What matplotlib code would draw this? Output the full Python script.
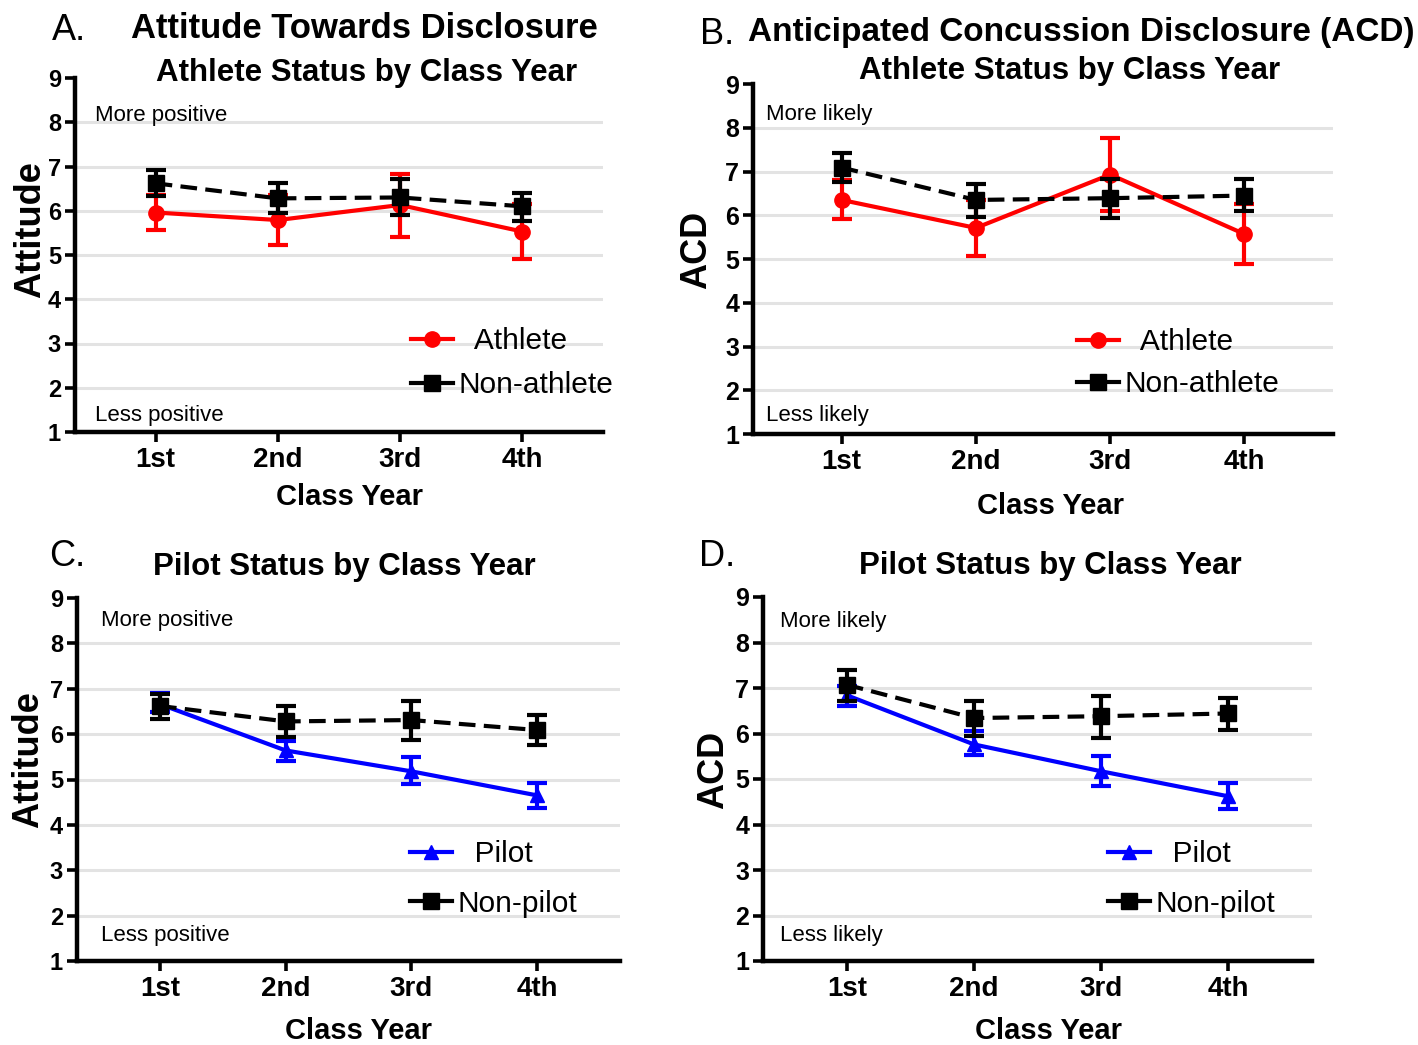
import matplotlib
matplotlib.use("Agg")
import matplotlib.pyplot as plt
from matplotlib.lines import Line2D
import numpy as np

plt.rcParams['font.family'] = ['Liberation Sans', 'DejaVu Sans']

years = ['1st', '2nd', '3rd', '4th']

# Panel A: Attitude, athlete status
athlete_att = [5.96, 5.79, 6.13, 5.53]
athlete_att_lo = [5.57, 5.23, 5.41, 4.91]
athlete_att_hi = [6.36, 6.35, 6.84, 6.15]
nonathlete_att = [6.62, 6.28, 6.30, 6.10]
nonathlete_att_lo = [6.34, 5.95, 5.90, 5.77]
nonathlete_att_hi = [6.91, 6.62, 6.71, 6.41]

# Panel B: ACD, athlete status
athlete_acd = [6.35, 5.71, 6.93, 5.57]
athlete_acd_lo = [5.92, 5.08, 6.10, 4.88]
athlete_acd_hi = [6.81, 6.35, 7.77, 6.25]
nonathlete_acd = [7.09, 6.35, 6.39, 6.45]
nonathlete_acd_lo = [6.76, 5.97, 5.94, 6.10]
nonathlete_acd_hi = [7.43, 6.72, 6.84, 6.82]

# Panel C: Attitude, pilot status
pilot_att = [6.66, 5.64, 5.18, 4.65]
pilot_att_lo = [6.49, 5.40, 4.90, 4.38]
pilot_att_hi = [6.91, 5.85, 5.49, 4.92]
nonpilot_att = [6.62, 6.28, 6.31, 6.09]
nonpilot_att_lo = [6.34, 5.93, 5.88, 5.77]
nonpilot_att_hi = [6.89, 6.63, 6.73, 6.42]

# Panel D: ACD, pilot status
pilot_acd = [6.84, 5.76, 5.17, 4.62]
pilot_acd_lo = [6.60, 5.52, 4.85, 4.33]
pilot_acd_hi = [7.05, 6.05, 5.51, 4.92]
nonpilot_acd = [7.07, 6.34, 6.38, 6.44]
nonpilot_acd_lo = [6.72, 5.95, 5.91, 6.08]
nonpilot_acd_hi = [7.40, 6.72, 6.83, 6.79]

W, H = 1418, 1045
fig = plt.figure(figsize=(W / 100, H / 100), dpi=100)


def rect(l, r, t, b):
    return [l / W, 1 - b / H, (r - l) / W, (b - t) / H]


def fx(x):
    return x / W


def fy(y):
    return 1 - y / H


LW = 3.0


def panel(r, m1, lo1, hi1, c1, mk1, lab1, m2, lo2, hi2, lab2,
          ylab, ylab_xy, xlab_xy, top_txt, bot_txt, txt_x, top_y, bot_y,
          leg_xy, leg_sp, ytick_fs):
    ax = fig.add_axes(rect(*r))
    x = np.arange(1, len(years) + 1)
    for g in range(2, 9):
        ax.axhline(g, color='#e3e3e3', lw=2.2, zorder=0)
    m1a = np.array(m1)
    e1 = [m1a - np.array(lo1), np.array(hi1) - m1a]
    ms1 = 11 if mk1 == 'o' else 10
    ax.errorbar(x, m1a, yerr=e1, color=c1, lw=LW, marker=mk1, ms=ms1,
                capsize=7.5, capthick=LW, elinewidth=LW, zorder=3)
    m2a = np.array(m2)
    e2 = [m2a - np.array(lo2), np.array(hi2) - m2a]
    ax.errorbar(x, m2a, yerr=e2, color='black', lw=LW, marker='s', ms=11,
                capsize=7.5, capthick=LW, elinewidth=LW, dashes=(4.0, 2.0),
                zorder=4)
    ax.set_xlim(0.34, 4.66)
    ax.set_ylim(1, 9)
    ax.set_xticks(x)
    ax.set_xticklabels(years, fontsize=20, fontweight='bold')
    ax.set_yticks(range(1, 10))
    ax.set_yticklabels([str(v) for v in range(1, 10)], fontsize=ytick_fs,
                       fontweight='bold')
    ax.tick_params(axis='both', direction='out', length=7, width=2.6)
    ax.tick_params(axis='y', pad=3)
    ax.tick_params(axis='x', pad=4)
    for s in ['top', 'right']:
        ax.spines[s].set_visible(False)
    for s in ['left', 'bottom']:
        ax.spines[s].set_linewidth(3.2)
    ax.set_ylabel(ylab, fontsize=26, fontweight='bold', va='center')
    ax.yaxis.set_label_coords(*ylab_xy)
    ax.set_xlabel('Class Year', fontsize=21, fontweight='bold', va='center')
    ax.xaxis.set_label_coords(*xlab_xy)
    ax.text(txt_x, top_y, top_txt, transform=ax.transAxes, fontsize=16,
            va='center', ha='left')
    ax.text(txt_x, bot_y, bot_txt, transform=ax.transAxes, fontsize=16,
            va='center', ha='left')
    h1 = Line2D([], [], color=c1, lw=LW, marker=mk1, ms=ms1)
    h2 = Line2D([], [], color='black', lw=LW, marker='s', ms=11)
    ax.legend([h1, h2], ['  ' + lab1, lab2], loc='upper left',
              bbox_to_anchor=(fx(leg_xy[0]), fy(leg_xy[1])),
              bbox_transform=fig.transFigure, frameon=False, fontsize=21.5,
              handlelength=1.4, handletextpad=0.2, labelspacing=leg_sp,
              borderpad=0, borderaxespad=0)
    return ax


axA = panel((75, 603, 78, 432), athlete_att, athlete_att_lo, athlete_att_hi,
            'red', 'o', 'Athlete', nonathlete_att, nonathlete_att_lo,
            nonathlete_att_hi, 'Non-athlete', 'Attitude', (-0.085, 0.573),
            (0.519, -0.184), 'More positive', 'Less positive', 0.038, 0.895,
            0.048, (411, 327), 0.54, 17)
axB = panel((753, 1333, 84, 434), athlete_acd, athlete_acd_lo, athlete_acd_hi,
            'red', 'o', 'Athlete', nonathlete_acd, nonathlete_acd_lo,
            nonathlete_acd_hi, 'Non-athlete', 'ACD', (-0.097, 0.526),
            (0.513, -0.206), 'More likely', 'Less likely', 0.022, 0.914,
            0.054, (1077, 328), 0.48, 18)
axC = panel((77, 620, 598, 961), pilot_att, pilot_att_lo, pilot_att_hi,
            'blue', '^', 'Pilot', nonpilot_att, nonpilot_att_lo,
            nonpilot_att_hi, 'Non-pilot', 'Attitude', (-0.09, 0.554),
            (0.519, -0.193), 'More positive', 'Less positive', 0.044, 0.937,
            0.069, (410, 840), 0.72, 17)
axD = panel((763, 1312, 597, 961), pilot_acd, pilot_acd_lo, pilot_acd_hi,
            'blue', '^', 'Pilot', nonpilot_acd, nonpilot_acd_lo,
            nonpilot_acd_hi, 'Non-pilot', 'ACD', (-0.09, 0.525),
            (0.52, -0.192), 'More likely', 'Less likely', 0.031, 0.934,
            0.069, (1108, 840), 0.72, 18)

# Titles and panel letters
fig.text(fx(364), fy(28), 'Attitude Towards Disclosure', fontsize=24.9,
         fontweight='bold', ha='center', va='center')
fig.text(fx(367), fy(73), 'Athlete Status by Class Year', fontsize=22.5,
         fontweight='bold', ha='center', va='center')
fig.text(fx(1081), fy(33), 'Anticipated Concussion Disclosure (ACD)',
         fontsize=24, fontweight='bold', ha='center', va='center')
fig.text(fx(1070), fy(71), 'Athlete Status by Class Year', fontsize=22.5,
         fontweight='bold', ha='center', va='center')
fig.text(fx(344), fy(567), 'Pilot Status by Class Year', fontsize=22.5,
         fontweight='bold', ha='center', va='center')
fig.text(fx(1050), fy(566), 'Pilot Status by Class Year', fontsize=22.5,
         fontweight='bold', ha='center', va='center')
fig.text(fx(69), fy(30), 'A.', fontsize=26, ha='center', va='center')
fig.text(fx(717), fy(35), 'B.', fontsize=26, ha='center', va='center')
fig.text(fx(67), fy(556), 'C.', fontsize=26, ha='center', va='center')
fig.text(fx(717), fy(556), 'D.', fontsize=26, ha='center', va='center')

fig.savefig('out.png', dpi=100)
